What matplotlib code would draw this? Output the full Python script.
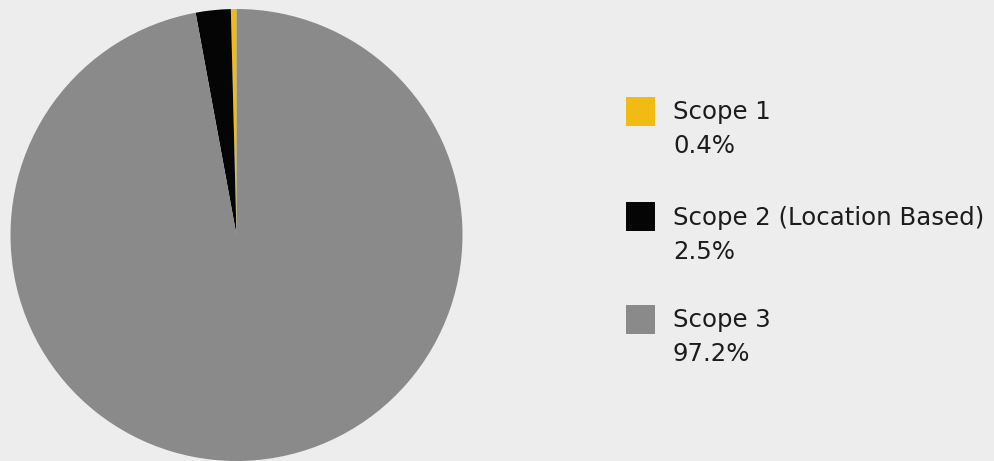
import matplotlib.pyplot as plt
from matplotlib.patches import Rectangle

# emissions share by scope
labels = ['Scope 1', 'Scope 2 (Location Based)', 'Scope 3']
shares = [0.4, 2.5, 97.2]
share_labels = ['0.4%', '2.5%', '97.2%']
colors = ['#f2bb14', '#050505', '#8a8a8a']

bg = '#ededed'
W, H = 994, 461
fig = plt.figure(figsize=(W / 100, H / 100), dpi=100, facecolor=bg)

# pie, centred near (236, 235) px with radius ~226 px
cx, cy, r = 236.5, 235, 226
ax = fig.add_axes([(cx - r) / W, (H - cy - r) / H, 2 * r / W, 2 * r / H])
ax.pie(shares, colors=colors, startangle=90, counterclock=True,
       wedgeprops=dict(linewidth=0))
ax.set_xlim(-1, 1)
ax.set_ylim(-1, 1)
ax.set_aspect('equal')
ax.axis('off')

# legend built by hand: square + name + percentage
sq_x, sq_size = 626, 29
rows_y = [111, 217, 319]
for lab, pct, col, y in zip(labels, share_labels, colors, rows_y):
    fig.add_artist(Rectangle((sq_x / W, (H - y - sq_size / 2) / H), sq_size / W, sq_size / H,
                             transform=fig.transFigure, facecolor=col, edgecolor='none'))
    fig.text(673 / W, (H - y - 1) / H, lab, fontsize=17.6, family='DejaVu Sans',
             color='#1c1c1c', va='center', ha='left')
    fig.text(673 / W, (H - y - 35) / H, pct, fontsize=17.6, family='DejaVu Sans',
             color='#1c1c1c', va='center', ha='left')

fig.savefig('out.png', dpi=100, facecolor=bg)
